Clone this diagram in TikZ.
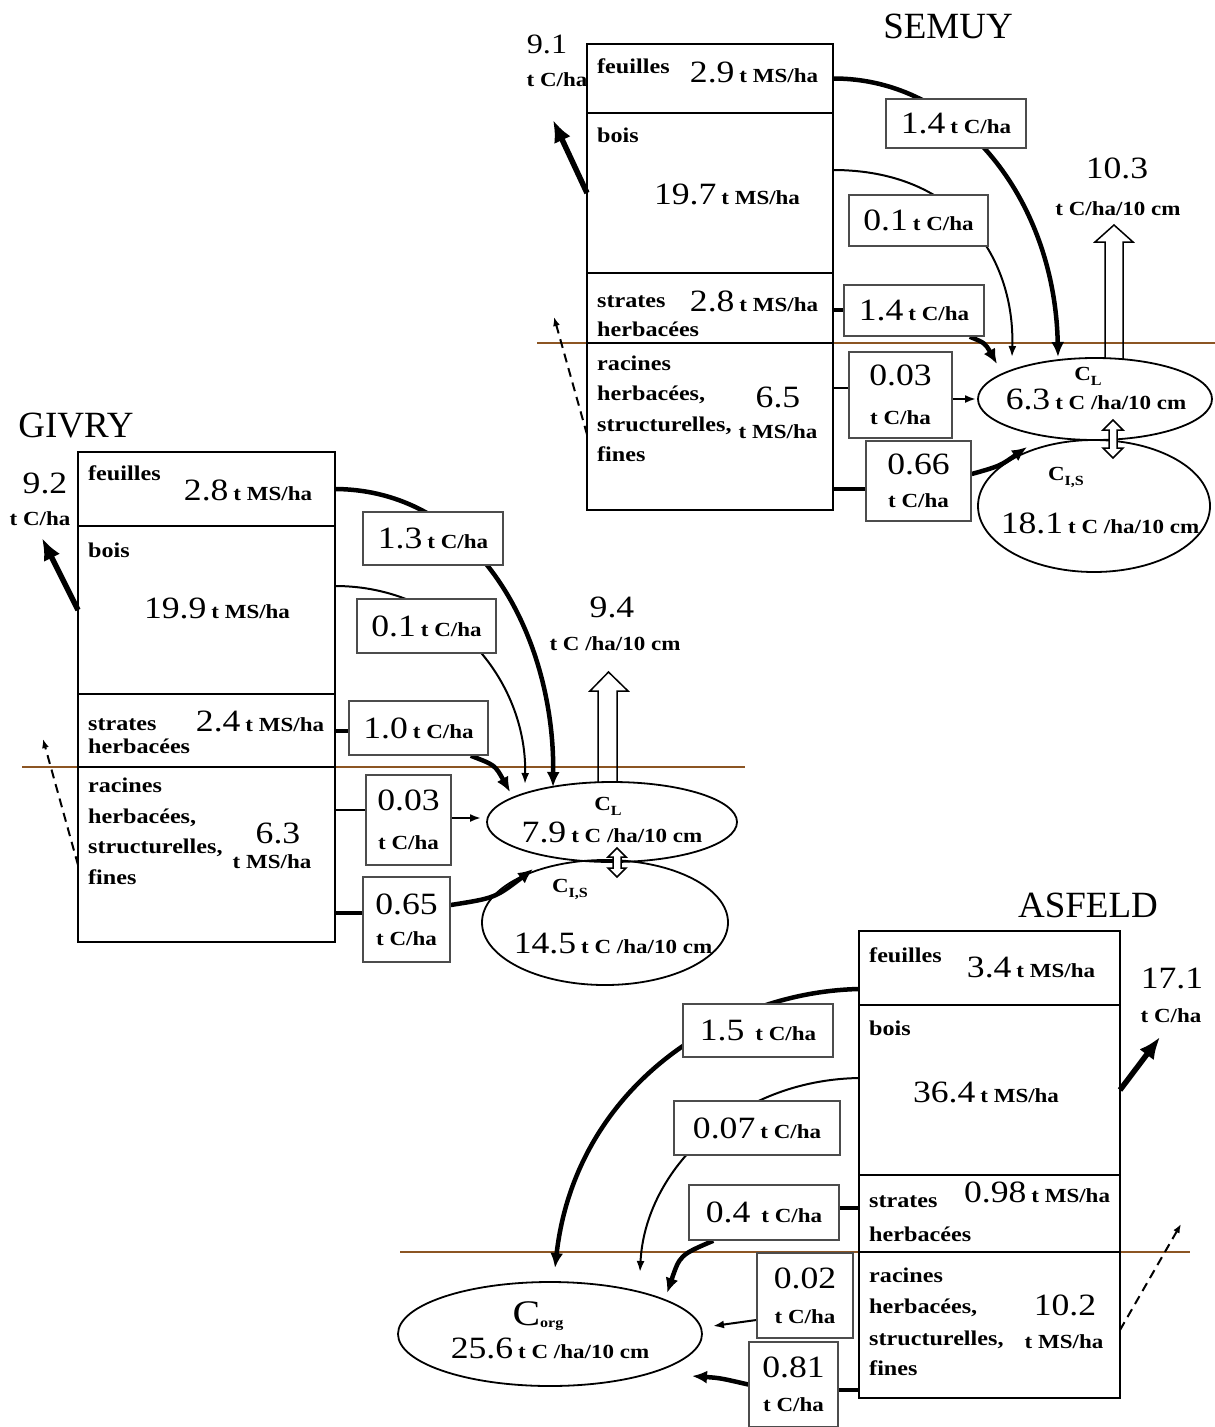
\documentclass[tikz,border=0pt]{standalone}
\usepackage{fontspec}
\setmainfont{Liberation Serif}[FakeStretch=1.15]
\newfontfamily\titlefont{Liberation Serif}
\usetikzlibrary{shapes.geometric,arrows.meta,backgrounds}
\definecolor{groundc}{RGB}{140,85,35}
\newcommand\numf{\fontsize{31}{33}\selectfont}
\newcommand\unitf{\fontsize{20}{22}\selectfont\bfseries}
\newcommand\labf{\fontsize{21}{23}\selectfont\bfseries}
\newcommand\ttlf{\titlefont\fontsize{37}{40}\selectfont}
\newcommand\nq[2]{{\numf #1}\hspace{5pt}{\unitf #2}}
\newcommand\csub[1]{{\unitf C}\raisebox{-5pt}{\fontsize{14}{14}\selectfont\bfseries #1}}
\tikzset{
  tbox/.style={draw, line width=2pt, anchor=north west, inner sep=0, outer sep=0},
  lbox/.style={draw=black!70, line width=1.5pt, fill=white, inner sep=0, align=center, font=\numf},
  txt/.style={inner sep=0, anchor=base},
  ltxt/.style={inner sep=0, anchor=base west, font=\labf},
  ttl/.style={inner sep=0, anchor=base, font=\ttlf},
  ell/.style={draw, ellipse, line width=1.8pt, inner sep=0},
  flowthin/.style={line width=2pt, -{Latex[length=11pt,width=8pt]}},
  flowthick/.style={line width=4.5pt, -{Latex[length=15pt,width=13pt]}},
  bigout/.style={line width=5.5pt, -{Latex[length=22pt,width=18pt]}},
  dashedarr/.style={line width=2pt, dash pattern=on 9pt off 6pt, -{Latex[length=9pt,width=7pt]}},
  link/.style={line width=2pt},
  linkthick/.style={line width=4pt},
  ground/.style={draw=groundc, line width=2.5pt},
  hollow/.style={draw, line width=1.5pt, line join=miter},
}
\begin{document}
\begin{tikzpicture}[x=1pt,y=-1pt]
\useasboundingbox (0,0) rectangle (1215,1427);

% ================= SEMUY =================
\node[ttl] (stitle) at (948,38) {SEMUY};
\node[tbox, minimum width=246, minimum height=69] (sf) at (587,44) {};
\node[tbox, minimum width=246, minimum height=160] (sb) at (587,113) {};
\node[tbox, minimum width=246, minimum height=70] (ss) at (587,273) {};
\node[tbox, minimum width=246, minimum height=167] (sr) at (587,343) {};
\node[ltxt] (sft) at (597,73) {feuilles};
\node[txt] (sfv) at (754,82) {\nq{2.9}{t MS/ha}};
\node[ltxt] (sbt) at (597,142) {bois};
\node[txt] (sbv) at (727,204) {\nq{19.7}{t MS/ha}};
\node[ltxt] (sst1) at (597,307) {strates};
\node[ltxt] (sst2) at (597,336) {herbacées};
\node[txt] (ssv) at (754,311) {\nq{2.8}{t MS/ha}};
\node[ltxt] (srt1) at (597,370) {racines};
\node[ltxt] (srt2) at (597,400) {herbacées,};
\node[ltxt] (srt3) at (597,431) {structurelles,};
\node[ltxt] (srt4) at (597,461) {fines};
\node[txt] (srv1) at (778,407) {\numf 6.5};
\node[txt] (srv2) at (778,438) {\unitf t MS/ha};
\node[txt] (sout1) at (547,53) {\fontsize{28}{30}\selectfont 9.1};
\node[txt] (sout2) at (557,86) {\unitf t C/ha};

\node[lbox, minimum width=140, minimum height=49] (L1) at (956,123.5) {\nq{1.4}{t C/ha}};
\node[lbox, minimum width=139, minimum height=51] (L2) at (918.5,220.5) {\nq{0.1}{t C/ha}};
\node[lbox, minimum width=140, minimum height=51] (L3) at (914,310.5) {\nq{1.4}{t C/ha}};
\node[lbox, minimum width=103, minimum height=86] (L4) at (900.5,395) {0.03\\[6pt]{\unitf t C/ha}};
\node[lbox, minimum width=105, minimum height=80] (L5) at (918.5,481) {0.66\\[0pt]{\unitf t C/ha}};

\node[ell, minimum width=234, minimum height=82] (CL) at (1095,399) {};
\node[ell, minimum width=232, minimum height=132] (CLS) at (1094,506) {};
\node[txt] (CLt1) at (1088,380) {\csub{L}};
\node[txt] (CLt2) at (1096,409) {\nq{6.3}{t C /ha/10 cm}};
\node[txt] (CLSt1) at (1066,480) {\csub{I,S}};
\node[txt] (CLSt2) at (1100,533) {\nq{18.1}{t C /ha/10 cm}};
\node[txt] (sresp1) at (1117,178) {\numf 10.3};
\node[txt] (sresp2) at (1118,215) {\unitf t C/ha/10 cm};

\draw[hollow] (1105,358.5) -- (1105,242) -- (1095,242) -- (1114,225) -- (1133,242) -- (1123,242) -- (1123,359);
\draw[hollow, fill=white] (1113,420) -- (1123,430) -- (1117,430) -- (1117,448) -- (1123,448) -- (1113,458) -- (1103,448) -- (1109,448) -- (1109,430) -- (1103,430) -- cycle;

\coordinate (sA1) at (1058,357);
\coordinate (sA2) at (1012,357);
\coordinate (sA3) at (997,364);
\coordinate (sA4) at (976,399);
\coordinate (sA5) at (1027,447);
\coordinate (sOut) at (553,120);
\coordinate (sDash) at (554,317);

% ================= GIVRY =================
\node[ttl] (gtitle) at (76,437) {GIVRY};
\node[tbox, minimum width=257, minimum height=74] (gf) at (78,452) {};
\node[tbox, minimum width=257, minimum height=168] (gb) at (78,526) {};
\node[tbox, minimum width=257, minimum height=73] (gs) at (78,694) {};
\node[tbox, minimum width=257, minimum height=175] (gr) at (78,767) {};
\node[ltxt] (gft) at (88,480) {feuilles};
\node[txt] (gfv) at (248,500) {\nq{2.8}{t MS/ha}};
\node[ltxt] (gbt) at (88,557) {bois};
\node[txt] (gbv) at (217,618) {\nq{19.9}{t MS/ha}};
\node[ltxt] (gst1) at (88,730) {strates};
\node[ltxt] (gst2) at (88,753) {herbacées};
\node[txt] (gsv) at (260,731) {\nq{2.4}{t MS/ha}};
\node[ltxt] (grt1) at (88,792) {racines};
\node[ltxt] (grt2) at (88,823) {herbacées,};
\node[ltxt] (grt3) at (88,853) {structurelles,};
\node[ltxt] (grt4) at (88,884) {fines};
\node[txt] (grv1) at (278,843) {\numf 6.3};
\node[txt] (grv2) at (272,868) {\unitf t MS/ha};
\node[txt] (gout1) at (45,493) {\numf 9.2};
\node[txt] (gout2) at (40,525) {\unitf t C/ha};

\node[lbox, minimum width=140, minimum height=53] (G1) at (433,538.5) {\nq{1.3}{t C/ha}};
\node[lbox, minimum width=139, minimum height=54] (G2) at (426.5,626) {\nq{0.1}{t C/ha}};
\node[lbox, minimum width=139, minimum height=54] (G3) at (418.5,728) {\nq{1.0}{t C/ha}};
\node[lbox, minimum width=85, minimum height=90] (G4) at (408.5,820) {0.03\\[6pt]{\unitf t C/ha}};
\node[lbox, minimum width=87, minimum height=85] (G5) at (406.5,919.5) {0.65\\[-2pt]{\unitf t C/ha}};

\node[ell, minimum width=250, minimum height=80] (GCL) at (612,822) {};
\node[ell, minimum width=246, minimum height=125] (GCLS) at (605,922.5) {};
\node[txt] (GCLt1) at (608,810) {\csub{L}};
\node[txt] (GCLt2) at (612,842) {\nq{7.9}{t C /ha/10 cm}};
\node[txt] (GCLSt1) at (570,892) {\csub{I,S}};
\node[txt] (GCLSt2) at (613,953) {\nq{14.5}{t C /ha/10 cm}};
\node[txt] (gresp1) at (612,617) {\numf 9.4};
\node[txt] (gresp2) at (615,650) {\unitf t C /ha/10 cm};

\draw[hollow] (598,782.5) -- (598,691) -- (590,691) -- (608.5,672) -- (628,691) -- (617,691) -- (617,782);
\draw[hollow, fill=white] (617,848) -- (626,857) -- (621,857) -- (621,868) -- (626,868) -- (617,877) -- (608,868) -- (613,868) -- (613,857) -- (608,857) -- cycle;

\coordinate (gA1) at (553,787);
\coordinate (gA2) at (525,784);
\coordinate (gA3) at (510,792);
\coordinate (gA4) at (481,818);
\coordinate (gA5) at (533,869);
\coordinate (gOut) at (42,538);
\coordinate (gDash) at (43,739);

% ================= ASFELD =================
\node[ttl] (atitle) at (1088,917) {ASFELD};
\node[tbox, minimum width=261, minimum height=74] (af) at (859,931) {};
\node[tbox, minimum width=261, minimum height=170] (ab) at (859,1005) {};
\node[tbox, minimum width=261, minimum height=77] (as) at (859,1175) {};
\node[tbox, minimum width=261, minimum height=146] (ar) at (859,1252) {};
\node[ltxt] (aft) at (869,962) {feuilles};
\node[txt] (afv) at (1031,977) {\nq{3.4}{t MS/ha}};
\node[ltxt] (abt) at (869,1035) {bois};
\node[txt] (abv) at (986,1102) {\nq{36.4}{t MS/ha}};
\node[ltxt] (ast1) at (869,1207) {strates};
\node[ltxt] (ast2) at (869,1241) {herbacées};
\node[txt] (asv) at (1037,1202) {\nq{0.98}{t MS/ha}};
\node[ltxt] (art1) at (869,1282) {racines};
\node[ltxt] (art2) at (869,1313) {herbacées,};
\node[ltxt] (art3) at (869,1345) {structurelles,};
\node[ltxt] (art4) at (869,1375) {fines};
\node[txt] (arv1) at (1065,1315) {\numf 10.2};
\node[txt] (arv2) at (1064,1348) {\unitf t MS/ha};
\node[txt] (aout1) at (1172,988) {\numf 17.1};
\node[txt] (aout2) at (1171,1022) {\unitf t C/ha};

\node[lbox, minimum width=150, minimum height=53] (F1) at (758,1030.5) {\nq{1.5\hspace{6pt}}{t C/ha}};
\node[lbox, minimum width=166, minimum height=54] (F2) at (757,1128) {\nq{0.07}{t C/ha}};
\node[lbox, minimum width=150, minimum height=55] (F3) at (764,1212.5) {\nq{0.4\hspace{6pt}}{t C/ha}};
\node[lbox, minimum width=96, minimum height=85] (F4) at (805,1295.5) {0.02\\[2pt]{\unitf t C/ha}};
\node[lbox, minimum width=89, minimum height=85] (F5) at (793.5,1384.5) {0.81\\[1pt]{\unitf t C/ha}};

\node[ell, minimum width=304, minimum height=104] (CO) at (550,1334) {};
\node[txt] (COt1) at (538,1325) {{\fontsize{36}{38}\selectfont C}\raisebox{-2pt}{\fontsize{14}{14}\selectfont\bfseries org}};
\node[txt] (COt2) at (550,1358) {\nq{25.6}{t C /ha/10 cm}};

\coordinate (aA1) at (555,1268);
\coordinate (aA2) at (640,1272);
\coordinate (aA3) at (667,1293);
\coordinate (aA4) at (713,1326);
\coordinate (aA5) at (692,1376);
\coordinate (aOut) at (1160,1037);
\coordinate (aDash) at (1181,1224);

% ================= background: ground lines and flows =================
\begin{scope}[on background layer]
\fill[white] (0,0) rectangle (1215,1427);
\draw[ground] (537,343) -- (1215,343);
\draw[ground] (22,767) -- (745,767);
\draw[ground] (400,1252) -- (1190,1252);

% SEMUY flows
\draw[flowthick] (sf.east) .. controls (960,78) and (1055,200) .. (sA1);
\draw[flowthin] ([yshift=23]sb.east) .. controls (960,170) and (1015,260) .. (sA2);
\draw[linkthick] ([yshift=-2]ss.east) -- ([yshift=-2]ss.east -| L3.west);
\draw[flowthick] ([xshift=-15]L3.south east) .. controls (985,343) .. (sA3);
\draw[link] ([yshift=38.5]sr.east) -- ([yshift=38.5]sr.east -| L4.west);
\draw[flowthin] ([yshift=-4]L4.east) -- (sA4);
\draw[linkthick] ([yshift=-62.5]sr.east) -- ([yshift=-62.5]sr.east -| L5.west);
\draw[flowthick] ([yshift=7]L5.east) .. controls (1000,466) .. (sA5);
\draw[bigout] (sb.west) -- (sOut);
\draw[dashedarr] ([yshift=-8]sr.west) -- (sDash);

% GIVRY flows
\draw[flowthick] (gf.east) .. controls (480,490) and (555,640) .. (gA1);
\draw[flowthin] ([yshift=24]gb.east) .. controls (450,586) and (527,680) .. (gA2);
\draw[linkthick] (gs.east) -- (gs.east -| G3.west);
\draw[flowthick] ([xshift=-18]G3.south east) .. controls (495,765) .. (gA3);
\draw[link] ([yshift=44.5]gr.east) -- ([yshift=44.5]gr.east -| G4.west);
\draw[flowthin] ([yshift=2]G4.east) -- (gA4);
\draw[linkthick] ([yshift=-58.5]gr.east) -- ([yshift=-58.5]gr.east -| G5.west);
\draw[flowthick] ([yshift=14.5]G5.east) .. controls (495,898) .. (gA5);
\draw[bigout] (gb.west) -- (gOut);
\draw[dashedarr] ([yshift=-10.5]gr.west) -- (gDash);

% ASFELD flows
\draw[flowthick] ([yshift=-21]af.west) .. controls (720,992) and (575,1090) .. (aA1);
\draw[flowthin] ([yshift=12]ab.west) .. controls (735,1080) and (645,1170) .. (aA2);
\draw[linkthick] ([yshift=5.5]as.west) -- ([yshift=5.5]as.west -| F3.east);
\draw[flowthick] ([xshift=25]F3.south west) .. controls (680,1255) .. (aA3);
\draw[flowthin] ([yshift=-24.5]F4.west) -- (aA4);
\draw[linkthick] ([yshift=-65]ar.west) -- ([yshift=-65]ar.west -| F5.east);
\draw[flowthick] (F5.west) .. controls (720,1378) .. (aA5);
\draw[bigout] (ab.east) -- (aOut);
\draw[dashedarr] ([yshift=-5]ar.east) -- (aDash);
\end{scope}
\end{tikzpicture}
\end{document}
